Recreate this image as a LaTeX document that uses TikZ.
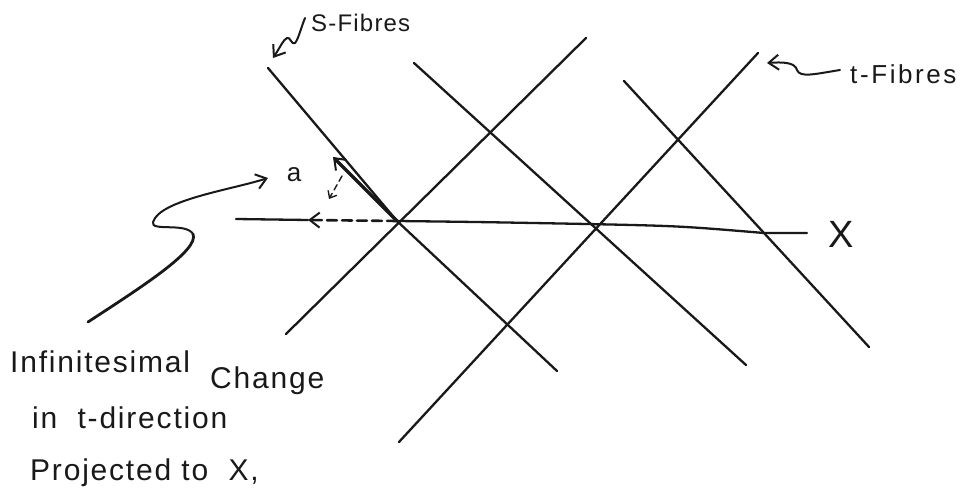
\documentclass[tikz,border=0pt]{standalone}
\usepackage{fontspec}
\setmainfont{Liberation Sans}
\usetikzlibrary{arrows.meta}
\begin{document}
\begin{tikzpicture}[x=1pt,y=-1pt,
  fibre/.style={line width=2.3pt,line cap=round,draw=black!90},
  hand/.style={line width=2pt,line cap=round,draw=black!90},
  tip/.style={-{Straight Barb[length=10pt,width=15pt,line width=2pt]}},
  lbl/.style={inner sep=0pt,text=black!90},
  captxt/.style={lbl,anchor=base west,font=\fontsize{30}{30}\selectfont\addfontfeature{LetterSpace=6}}]
\useasboundingbox (0,0) rectangle (970,492);
% coordinates
\coordinate (d1s) at (268,68);  \coordinate (d1e) at (557,371);
\coordinate (d2s) at (414,63);  \coordinate (d2e) at (746,365);
\coordinate (d3s) at (624,81);  \coordinate (d3e) at (869,347);
\coordinate (a1s) at (286,334); \coordinate (a1e) at (586,38);
\coordinate (a2s) at (399,442); \coordinate (a2e) at (758,53);
\coordinate (xs) at (236,219);  \coordinate (xm) at (308,220);
\coordinate (p1) at (397,221);  \coordinate (x2) at (587,224);
\coordinate (x3) at (764,233);  \coordinate (xe) at (807,233);
\coordinate (bt) at (333,157);
% fibres
\draw[fibre] (d1s) -- (p1);
\draw[fibre] (d1e) -- (p1);
\draw[fibre] (d2s) -- (d2e);
\draw[fibre] (d3s) -- (d3e);
\draw[fibre] (a1s) -- (a1e);
\draw[fibre] (a2s) -- (a2e);
% X line
\draw[fibre] (p1) .. controls (480,222) .. (x2) .. controls (680,226) .. (x3) -- (xe);
\draw[fibre] (xs) -- (xm);
\draw[fibre,line width=2.6pt,dash pattern=on 10pt off 5pt,tip] (p1) -- (xm);
% bold tangent in s-direction
\draw[line width=3.4pt,line cap=round,draw=black!90,tip] (p1) -- (bt);
% small dashed projection arrow
\draw[hand,line width=1.4pt,dash pattern=on 6pt off 4pt,-{Straight Barb[length=6pt,width=10pt,line width=1.4pt]}] (342,176) -- (329,199);
% labels
\node[lbl,font=\fontsize{26}{26}\selectfont] (a) at (294,175) {a};
\node[lbl,font=\fontsize{38}{38}\selectfont] (X) at (841,234) {X};
\node[lbl,anchor=west,font=\fontsize{24}{24}\selectfont\addfontfeature{LetterSpace=5}] (sf) at (311,23) {S-Fibres};
\node[lbl,anchor=west,font=\fontsize{26}{26}\selectfont\addfontfeature{LetterSpace=10}] (tf) at (850,74) {t-Fibres};
% label arrows
\coordinate (sfa) at (273,58);
\draw[hand,tip] (305,18) .. controls (301,28) and (298,40) .. (295,43) .. controls (292,46) and (290,36) .. (287,38) .. controls (283,40) and (281,46) .. (sfa);
\coordinate (tfa) at (767,63);
\draw[hand,tip] (840,70) .. controls (815,74) and (800,78) .. (797,70) .. controls (795,62) and (782,62) .. (tfa);
\coordinate (cs) at (88,322);
\draw[hand,line width=2.8pt] (cs) .. controls (140,288) and (200,250) .. (193,234);
\draw[hand,tip] (193,234) .. controls (186,222) and (150,232) .. (153,222) .. controls (160,200) and (230,190) .. (268,178);
% caption
\node[captxt] (c1) at (10,372) {Infinitesimal};
\node[captxt] (c2) at (210,388) {Change};
\node[captxt] (c3) at (32,428) {in\ \ t-direction};
\node[captxt] (c4) at (30,480) {Projected\ to\ \ X,};
\end{tikzpicture}
\end{document}
